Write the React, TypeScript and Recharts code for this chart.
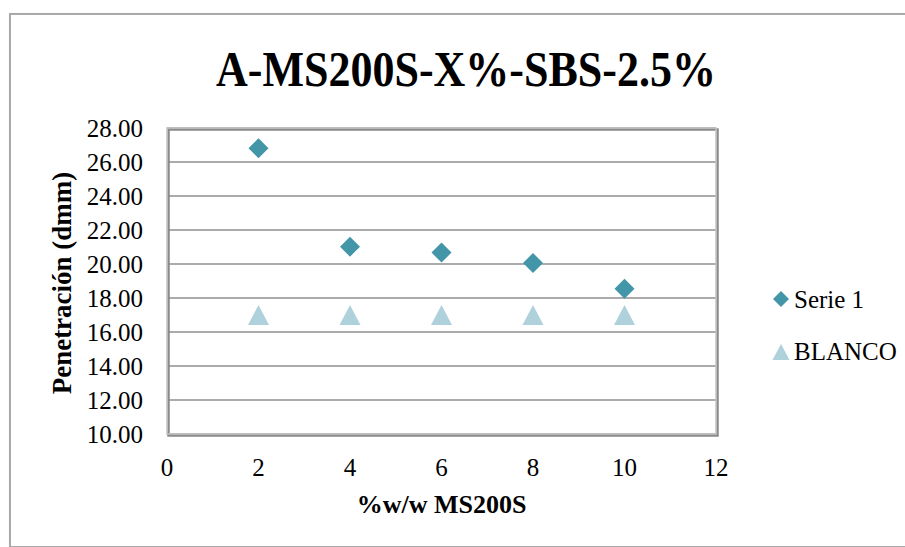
import React from 'react';
import { ScatterChart, Scatter, XAxis, YAxis, CartesianGrid, ReferenceArea } from 'recharts';

const xValues = [2, 4, 6, 8, 10];
const serie1Values = [26.81, 21.02, 20.67, 20.06, 18.55];
const blancoValues = [17.0, 17.0, 17.0, 17.0, 17.0];
const xTicks = [0, 2, 4, 6, 8, 10, 12];
const yTicks = [10, 12, 14, 16, 18, 20, 22, 24, 26, 28];
const seriesNames = ['Serie 1', 'BLANCO'];

const serie1Data = xValues.map((x, i) => ({ x, y: serie1Values[i] }));
const blancoData = xValues.map((x, i) => ({ x, y: blancoValues[i] }));

const FONT = '"Liberation Serif", "Times New Roman", serif';
const DIAMOND = '#4396a8';
const TRIANGLE = '#aed1dc';

function DiamondShape(props: any) {
  const { cx, cy } = props;
  const r = 10;
  return <polygon points={`${cx},${cy - r} ${cx + r},${cy} ${cx},${cy + r} ${cx - r},${cy}`} fill={DIAMOND} />;
}

function TriangleShape(props: any) {
  const { cx, cy } = props;
  return <polygon points={`${cx},${cy - 10} ${cx + 10.5},${cy + 10} ${cx - 10.5},${cy + 10}`} fill={TRIANGLE} />;
}

function PlotFrame(props: any) {
  const { x, y, width, height } = props;
  return (
    <g>
      <rect x={x + 1.5} y={y + 1.5} width={width} height={height} fill="none" stroke="#8a8a8a" strokeWidth={2.5} />
      <rect x={x} y={y} width={width} height={height} fill="none" stroke="#c4c4c4" strokeWidth={1.5} />
    </g>
  );
}

function ChartLegend() {
  const row = { display: 'flex', alignItems: 'center', height: 26 } as const;
  return (
    <div style={{ position: 'absolute', left: 772, top: 287, fontFamily: FONT, fontSize: 25, color: '#000' }}>
      <div style={row}>
        <svg width={22} height={20}>
          <polygon points="9,1 17,9 9,17 1,9" fill={DIAMOND} />
        </svg>
        <span>{seriesNames[0]}</span>
      </div>
      <div style={{ ...row, marginTop: 26 }}>
        <svg width={22} height={20}>
          <polygon points="9,2 17.5,18 0.5,18" fill={TRIANGLE} />
        </svg>
        <span>{seriesNames[1]}</span>
      </div>
    </div>
  );
}

export default function App() {
  return (
    <div style={{ position: 'fixed', left: 0, top: 0, width: 905, height: 547, background: '#fff', overflow: 'hidden' }}>
      <div
        style={{
          position: 'absolute',
          left: 9,
          top: 13,
          width: 930,
          height: 531,
          border: '2px solid #a9a9a9',
          boxShadow: '1px 1px 2px rgba(0,0,0,0.25)',
        }}
      />
      <div
        style={{
          position: 'absolute',
          left: 0,
          top: 48,
          width: 932,
          textAlign: 'center',
          fontFamily: FONT,
          fontWeight: 'bold',
          fontSize: 44,
          lineHeight: '44px',
          transform: 'scaleY(1.15)',
        }}
      >
        A-MS200S-X%-SBS-2.5%
      </div>
      <div style={{ position: 'absolute', left: 0, top: 0 }}>
        <ScatterChart width={905} height={547} margin={{ top: 128, right: 189, bottom: 0, left: 0 }}>
          <CartesianGrid vertical={false} stroke="#8f8f8f" strokeWidth={1.5} />
          <ReferenceArea x1={0} x2={12} y1={10} y2={28} fill="none" shape={PlotFrame} />
          <XAxis
            type="number"
            dataKey="x"
            domain={[0, 12]}
            ticks={xTicks}
            axisLine={false}
            tickLine={false}
            tickMargin={18}
            height={113}
            tick={{ fill: '#000', fontSize: 25, fontFamily: FONT }}
            label={{
              value: '%w/w MS200S',
              position: 'insideBottom',
              offset: 34,
              fill: '#000',
              fontSize: 26,
              fontWeight: 'bold',
              fontFamily: FONT,
            }}
          />
          <YAxis
            type="number"
            dataKey="y"
            domain={[10, 28]}
            ticks={yTicks}
            interval={0}
            axisLine={false}
            tickLine={false}
            tickMargin={18}
            width={167}
            tickFormatter={(v: number) => v.toFixed(2)}
            tick={{ fill: '#000', fontSize: 25, fontFamily: FONT }}
            label={() => (
              <text
                x={62}
                y={283}
                transform="rotate(-90 62 283)"
                textAnchor="middle"
                dominantBaseline="central"
                fill="#000"
                fontSize={27}
                fontWeight="bold"
                fontFamily={FONT}
              >
                Penetración (dmm)
              </text>
            )}
          />
          <Scatter name={seriesNames[0]} data={serie1Data} shape={DiamondShape} isAnimationActive={false} />
          <Scatter name={seriesNames[1]} data={blancoData} shape={TriangleShape} isAnimationActive={false} />
        </ScatterChart>
      </div>
      <ChartLegend />
    </div>
  );
}
